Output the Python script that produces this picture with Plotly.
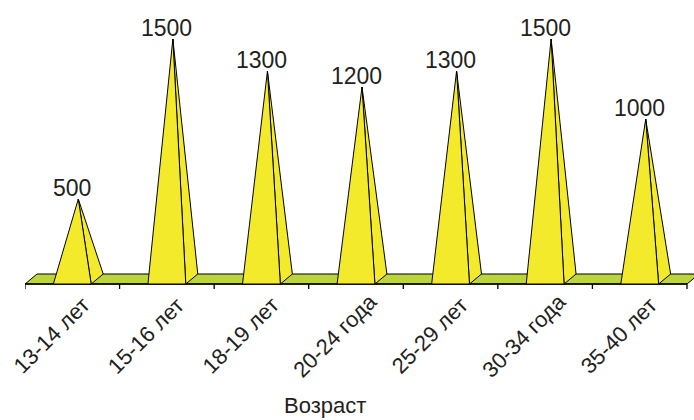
import plotly.graph_objects as go

categories = ["13-14 лет", "15-16 лет", "18-19 лет", "20-24 года", "25-29 лет", "30-34 года", "35-40 лет"]
values = [500, 1500, 1300, 1200, 1300, 1500, 1000]
axis_title = "Возраст"

# styling / geometry (in axis units)
HALF = 0.2      # half base width of pyramid (category units)
DX = 0.127      # depth offset x (category units)
DY = 62.5       # depth offset y (value units)
YELLOW = "#F4EA2C"
GREEN = "#BBD53B"
INK = "#231F20"
FONT = "Liberation Sans, Arial, sans-serif"

n = len(categories)
fig = go.Figure()

# floor (thin parallelogram)
x0, x1 = -0.5, n - 0.5
fig.add_trace(go.Scatter(
    x=[x0, x1, x1 + DX, x0 + DX, x0], y=[0, 0, DY, DY, 0],
    mode="lines", fill="toself", fillcolor=GREEN,
    line=dict(color="black", width=1), hoverinfo="skip", showlegend=False))

# axis line and tick marks
fig.add_trace(go.Scatter(x=[x0, x1], y=[0, 0], mode="lines",
                         line=dict(color="black", width=1.3), hoverinfo="skip", showlegend=False))
tx, ty = [], []
for k in range(n + 1):
    tx += [x0 + k, x0 + k, None]
    ty += [0, -31, None]
fig.add_trace(go.Scatter(x=tx, y=ty, mode="lines",
                         line=dict(color="black", width=1.3), hoverinfo="skip", showlegend=False))

# pyramids
for i, v in enumerate(values):
    ax_, ay_ = i + DX / 2, DY / 2 + v
    # right side face
    fig.add_trace(go.Scatter(
        x=[i + HALF, i + HALF + DX, ax_, i + HALF], y=[0, DY, ay_, 0],
        mode="lines", fill="toself", fillcolor=YELLOW,
        line=dict(color="black", width=1), hoverinfo="skip", showlegend=False))
    # front face
    fig.add_trace(go.Scatter(
        x=[i - HALF, i + HALF, ax_, i - HALF], y=[0, 0, ay_, 0],
        mode="lines", fill="toself", fillcolor=YELLOW,
        line=dict(color="black", width=1), hoverinfo="skip", showlegend=False))
    fig.add_annotation(x=i, y=ay_, text=str(v), showarrow=False, yanchor="bottom",
                       yshift=-4, font=dict(family=FONT, size=23, color=INK))

# rotated category labels
for i, c in enumerate(categories):
    fig.add_annotation(x=i, y=0, text=c, showarrow=False, textangle=-45,
                       xanchor="center", yanchor="middle", xshift=-21, yshift=-51,
                       font=dict(family=FONT, size=22, color=INK))

fig.add_annotation(xref="paper", yref="paper", x=0.448, y=-0.387, text=axis_title,
                   showarrow=False, xanchor="center", yanchor="middle",
                   font=dict(family=FONT, size=22, color=INK))

fig.update_layout(
    width=694, height=420,
    margin=dict(l=25, r=0, t=0, b=128),
    paper_bgcolor="white", plot_bgcolor="white",
    xaxis=dict(range=[-0.5, -0.5 + 669 / 94.57], showgrid=False, zeroline=False, showline=False,
               showticklabels=False, ticks="", fixedrange=True, automargin=False),
    yaxis=dict(range=[-50, 1775], visible=False, fixedrange=True, automargin=False),
)

fig.write_html("out.html", config=dict(displayModeBar=False),
               post_script="document.body.style.margin='0';document.body.style.overflow='hidden';")
